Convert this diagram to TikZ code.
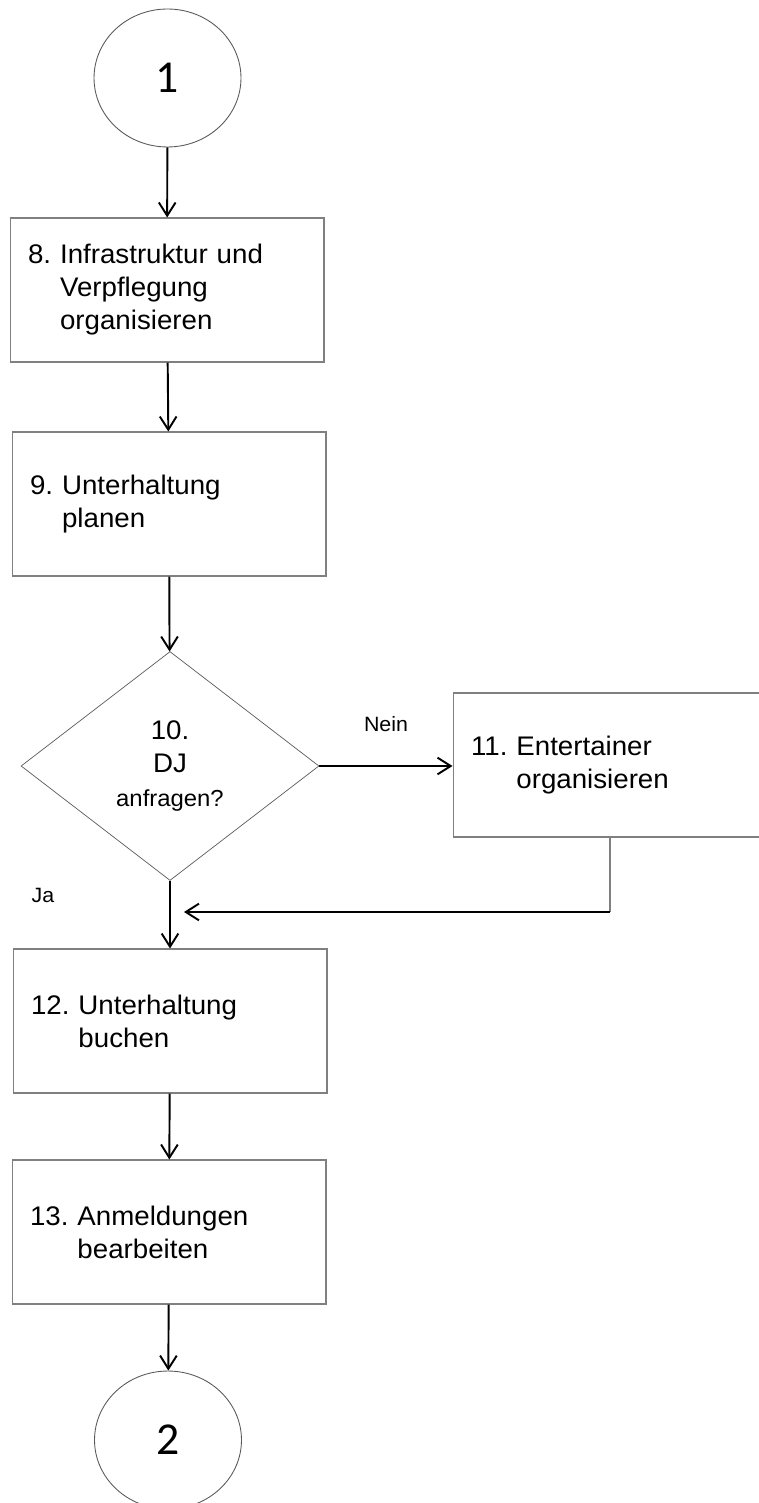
\documentclass[tikz,border=0pt]{standalone}
\usepackage{fontspec}
\setmainfont{Liberation Sans}[FakeStretch=1.03]
\newfontfamily\numfont{Carlito}
\usetikzlibrary{
    shapes.geometric,
    arrows.meta,
    positioning
}
\definecolor{framegray}{RGB}{128, 128, 128}
\definecolor{ringgray}{RGB}{90, 90, 90}
\frenchspacing

\begin{document}
\begin{tikzpicture}[
        x=0.02cm, y=-0.02cm,
        box/.style={rectangle, draw=framegray, line width=0.6pt, minimum width=6.28cm, minimum height=2.88cm, text width=5.56cm, inner xsep=0.36cm, align=left, font=\fontsize{15.3}{18.8}\selectfont},
        connector/.style={ellipse, draw=ringgray, line width=0.5pt, minimum width=2.94cm, minimum height=2.76cm, font=\numfont\fontsize{26}{30}\selectfont},
        decision/.style={diamond, draw=ringgray, line width=0.4pt, minimum width=5.96cm, minimum height=4.58cm, inner sep=0pt, align=center, font=\fontsize{15.3}{18.8}\selectfont},
        answer/.style={font=\fontsize{11.8}{13}\selectfont},
        arrow/.style={-{Straight Barb[length=7.5pt,width=9.5pt]}, line width=1.1pt},
        feed/.style={draw=framegray, line width=0.6pt}
    ]
        \useasboundingbox (0,0) rectangle (758,1503);

        % Start: page connector
        \node[connector] (in) at (167.5,78) {1};

        % Tasks 8 and 9
        \node[box] (infra) at (167,290) {8. Infrastruktur und\\\phantom{8.~}Verpflegung\\\phantom{8.~}organisieren};
        \node[box] (plan) at (169,504) {9. Unterhaltung\\\phantom{9.~}planen};

        % Decision 10 and task 11
        \node[decision] (dj) at (170,766) {10.\\DJ\\{\fontsize{13.2}{18.8}\selectfont anfragen?}};
        \node[box] (enter) at (610,765) {11. Entertainer\\\phantom{11.~}organisieren};
        \node[answer] (nein) at (386,724) {Nein};
        \node[answer] (ja) at (43,895) {Ja};

        % Tasks 12 and 13
        \node[box] (book) at (170,1021) {12. Unterhaltung\\\phantom{12.~}buchen};
        \node[box] (reg) at (169,1232) {13. Anmeldungen\\\phantom{13.~}bearbeiten};

        % End: page connector
        \node[connector] (out) at (168,1440) {2};

        % Feedback from task 11
        \coordinate (turn) at (610,912);
        \coordinate (join) at (184,912);

        % Arrows
        \draw[arrow] (in) -- (infra);
        \draw[arrow] (infra) -- (plan);
        \draw[arrow] (plan) -- (dj);
        \draw[arrow] (dj.east) -- (dj.east -| enter.west);
        \draw[arrow] (dj) -- (book);
        \draw[feed] (enter) -- (turn);
        \draw[arrow] (turn) -- (join);
        \draw[arrow] (book) -- (reg);
        \draw[arrow] (reg) -- (out);
    \end{tikzpicture}
\end{document}
